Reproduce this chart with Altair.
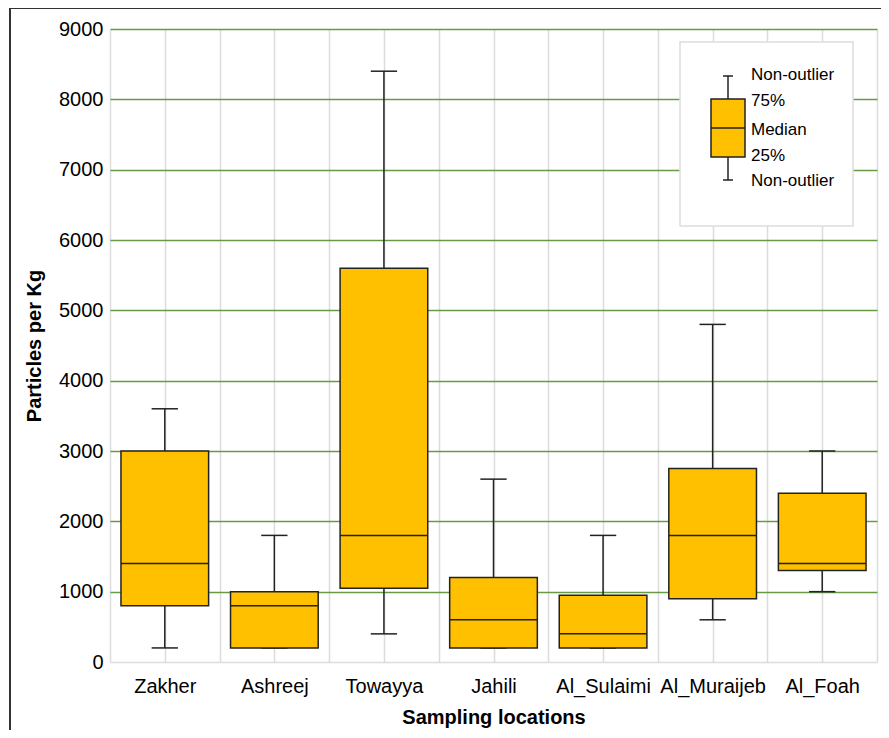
import altair as alt
import pandas as pd

locations = ["Zakher", "Ashreej", "Towayya", "Jahili", "Al_Sulaimi", "Al_Muraijeb", "Al_Foah"]
lower = [200, 200, 400, 200, 200, 600, 1000]
q1 = [800, 200, 1050, 200, 200, 900, 1300]
median = [1400, 800, 1800, 600, 400, 1800, 1400]
q3 = [3000, 1000, 5600, 1200, 950, 2750, 2400]
upper = [3600, 1800, 8400, 2600, 1800, 4800, 3000]
legend_labels = ["Non-outlier", "75%", "Median", "25%", "Non-outlier"]

df = pd.DataFrame({
    "loc": locations, "idx": list(range(len(locations))),
    "lo": lower, "q1": q1, "med": median, "q3": q3, "hi": upper,
})

FONT = "Liberation Sans"
FILL = "#FFC000"
STROKE = "#222222"

names_js = "[" + ",".join("'" + n + "'" for n in locations) + "]"
label_expr = f"(datum.value % 1 == 0.5) ? {names_js}[floor(datum.value)] : ''"

xvals = [i * 0.5 for i in range(2 * len(locations) + 1)]

xscale = alt.Scale(domain=[0, len(locations)], nice=False, zero=False)
yscale = alt.Scale(domain=[0, 9000], nice=False)

xaxis = alt.Axis(values=xvals, labelExpr=label_expr, grid=True, gridColor="#dcdcdc",
                 gridWidth=1.5, ticks=False, domain=False, labelFont=FONT, labelFontSize=20,
                 labelColor="black", labelPadding=14, title="Sampling locations",
                 titleFont=FONT, titleFontSize=20, titleFontWeight="bold", titleColor="black",
                 titlePadding=11, labelOverlap=False)
yaxis = alt.Axis(values=list(range(0, 9001, 1000)), format="d", grid=True,
                 gridColor={"condition": {"test": "datum.value == 0", "value": "#dcdcdc"}, "value": "#679a45"},
                 gridWidth=1.5, ticks=False, domain=False, labelFont=FONT, labelFontSize=20,
                 labelColor="black", labelPadding=7, title="Particles per Kg", titleFont=FONT,
                 titleFontSize=20, titleFontWeight="bold", titleColor="black", titlePadding=14)

base = alt.Chart(df).transform_calculate(
    xc="datum.idx + 0.5", xl="datum.idx + 0.1", xr="datum.idx + 0.9",
    cl="datum.idx + 0.38", cr="datum.idx + 0.62",
)

# frame around the figure
frame = alt.Chart(pd.DataFrame({"a": [0]})).mark_rect(fill=None, stroke="#333333", strokeWidth=2).encode(
    x=alt.value(-100), x2=alt.value(900), y=alt.value(-21), y2=alt.value(760)
)

upper_whisker = base.mark_rule(color=STROKE, strokeWidth=1.5).encode(
    x=alt.X("xc:Q", scale=xscale, axis=xaxis), y=alt.Y("q3:Q", scale=yscale, axis=yaxis), y2="hi:Q")
lower_whisker = base.mark_rule(color=STROKE, strokeWidth=1.5).encode(
    x="xc:Q", y="lo:Q", y2="q1:Q")
upper_cap = base.mark_rule(color=STROKE, strokeWidth=1.5).encode(x="cl:Q", x2="cr:Q", y="hi:Q")
lower_cap = base.mark_rule(color=STROKE, strokeWidth=1.5).encode(x="cl:Q", x2="cr:Q", y="lo:Q")
box = base.mark_rect(fill=FILL, stroke=STROKE, strokeWidth=1.5).encode(
    x="xl:Q", x2="xr:Q", y="q1:Q", y2="q3:Q")
med = base.mark_rule(color=STROKE, strokeWidth=1.5).encode(x="xl:Q", x2="xr:Q", y="med:Q")

# legend
one = pd.DataFrame({"a": [0]})
leg_bg = alt.Chart(one).mark_rect(fill="white", stroke="#dddddd", strokeWidth=1.5).encode(
    x=alt.value(570), x2=alt.value(743), y=alt.value(13), y2=alt.value(197))
leg_w1 = alt.Chart(one).mark_rule(color=STROKE, strokeWidth=1.5).encode(
    x=alt.value(618), y=alt.value(47), y2=alt.value(70))
leg_w2 = alt.Chart(one).mark_rule(color=STROKE, strokeWidth=1.5).encode(
    x=alt.value(618), y=alt.value(128), y2=alt.value(151))
leg_c1 = alt.Chart(one).mark_rule(color=STROKE, strokeWidth=1.5).encode(
    x=alt.value(613), x2=alt.value(623), y=alt.value(47))
leg_c2 = alt.Chart(one).mark_rule(color=STROKE, strokeWidth=1.5).encode(
    x=alt.value(613), x2=alt.value(623), y=alt.value(151))
leg_box = alt.Chart(one).mark_rect(fill=FILL, stroke=STROKE, strokeWidth=1.5).encode(
    x=alt.value(601), x2=alt.value(635), y=alt.value(70), y2=alt.value(128))
leg_med = alt.Chart(one).mark_rule(color=STROKE, strokeWidth=1.5).encode(
    x=alt.value(601), x2=alt.value(635), y=alt.value(99))

leg_text_y = [46, 72, 101, 127, 152]
leg_texts = []
for lab, yy in zip(legend_labels, leg_text_y):
    leg_texts.append(alt.Chart(pd.DataFrame({"t": [lab]})).mark_text(
        align="left", baseline="middle", font=FONT, fontSize=17, color="black").encode(
        text="t:N", x=alt.value(641), y=alt.value(yy)))

chart = alt.layer(
    upper_whisker, lower_whisker, upper_cap, lower_cap, box, med,
    leg_bg, leg_w1, leg_w2, leg_c1, leg_c2, leg_box, leg_med, *leg_texts, frame
).properties(
    width=767, height=633,
    autosize=alt.AutoSizeParams(type="none"),
    padding={"left": 102, "top": 21, "right": 4, "bottom": 68},
    background="white",
).configure_view(stroke=None)

chart.save("out.html", embed_options={"renderer": "svg", "actions": False})
